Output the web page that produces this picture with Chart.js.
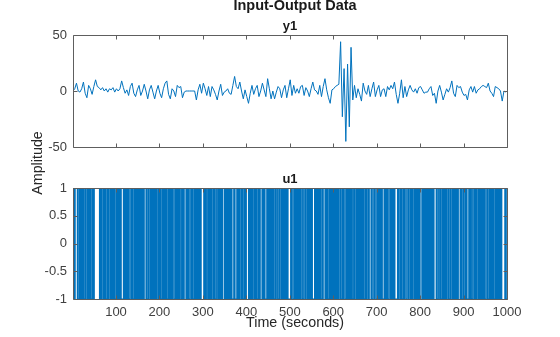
<!DOCTYPE html>
<html>
<head>
<meta charset="utf-8">
<title>Input-Output Data</title>
<script src="https://cdn.jsdelivr.net/npm/chart.js@4.4.1/dist/chart.umd.min.js"></script>
<style>
  html, body { margin: 0; padding: 0; background: #fff; }
  #wrap { position: relative; width: 560px; height: 337px; }
  #wrap canvas { position: absolute; left: 0; top: 0; }
</style>
</head>
<body>
<div id="wrap">
  <canvas id="outputChart" width="560" height="337"></canvas>
  <canvas id="inputChart" width="560" height="337"></canvas>
</div>
<script>
/* ------------------- DATA ------------------- */
// Output y1, one value every 4 samples starting at t = 1
const y1Start = 1;
const y1Step = 4;
const y1Values = [
  0, 2, 7, 0, -1, 2, 8, -2, -6, 5,
  2, -3, 4, 10, 4, 3, 1, 3, 0, 2,
  -1, 2, 1, 3, -1, 2, 0, 2, 9, 3,
  -2, 1, -4, 4, 7, -2, -5, 1, 5, -4,
  0, 6, 0, -7, 1, 5, -1, -7, 0, 5,
  -2, -6, 2, 7, 9, -3, -7, 2, 0, -5,
  5, 3, 4, -6, -1, 0, 0, 0, 0, 0,
  0, -8, 1, 6, -2, 7, 2, -4, 4, -5,
  4, 1, -3, -8, 0, 6, -4, -1, 0, 2,
  -2, -3, 5, 13, 4, 2, 8, 0, -7, 1,
  -5, -11, -2, 5, -3, 2, 5, -5, 0, 7,
  1, -5, 11, 2, -7, 0, -7, -1, 4, 2,
  -6, 1, 5, -6, 2, 10, -4, 5, -2, 2,
  -2, 4, 5, -4, 3, 0, -5, 2, 8, 1,
  0, -3, 5, -5, 4, 11, 1, -6, -11, 1,
  2, 4, 5, 6, 44, -23, 20, -45, 24, -32,
  39, -8, 5, -6, 2, -3, -9, 7, 0, -3,
  5, -5, 2, 8, -5, 1, 5, -5, 1, 2,
  -5, 4, 1, 5, 2, 8, -3, -11, -2, 10,
  -6, 4, -5, 1, 5, 1, -1, 2, -2, 3,
  4, 1, -2, -1, -1, 2, 4, -4, -2, -11,
  0, 5, -1, -8, -3, 2, -1, 3, 9, -2,
  -5, 5, 3, 4, -1, -4, -3, -8, 1, 4,
  -1, 4, -2, 1, 2, 4, 5, 4, 3, 7,
  0, -2, -5, 4, 3, 2, 0, -9, 0, -1
];

// Input u1, binary signal: '1' -> +1, '0' -> -1
// one row per 100 samples (t = 1..1000), grouped by 10 for reading
const u1Bits = [
  "0101011111 0100010110 1001010001 1101001011 0100010101 1111111111 1010010111 0110100010 1101110010 1001011000",
  "1010010110 1000001011 0100101100 0111010100 0101101001 0110100101 1010111101 0001011101 0010110100 1011101001",
  "0100010110 1001011000 1010100110 1110001010 0110100111 0101101111 0100101000 1110100010 1101001011 0101011111",
  "1010010111 0100101101 1101001000 1110101101 0010111101 1010010110 1010110000 1010000101 1010011101 0001010101",
  "1111010010 1010011101 0101000101 0111101001 0100001010 0110100101 1010001011 1000101110 1001011010 1010100000",
  "0101110001 0110100101 0101011100 0111011101 0010110100 1000001011 0100101101 1000101111 0100101000 1101001011",
  "0100101101 0111010001 0101110001 0110100101 1010001011 1010010110 1001011010 0010101110 1011110100 0111011100",
  "0101101001 0100001011 0100100011 1010010110 1000000101 0111010001 0101110001 1101110100 1011101001 0110100101",
  "1110101010 1010110101 0101010101 0111110100 0111010001 1010010110 1110100010 1110100101 1010010111 1010100010",
  "1110101000 0101101000 1110100101 1101001011 0100101100 0111000101 1010010110 0010110100 1010110111 1111010001"
];

const xTickValues = [100, 200, 300, 400, 500, 600, 700, 800, 900, 1000];
const y1TickValues = [-50, 0, 50];
const u1TickValues = [-1, -0.5, 0, 0.5, 1];

/* ------------------- STYLE ------------------- */
const LINE_COLOR = '#0072BD';
const AXIS_COLOR = '#5e5e5e';
const TEXT_COLOR = '#404040';
const FONT_FAMILY = "'Liberation Sans', Arial, Helvetica, sans-serif";
const TICK_LEN = 4;

/* ------------------- HELPERS ------------------- */
function y1Points() {
  return y1Values.map((v, i) => ({ x: y1Start + i * y1Step, y: v }));
}

function u1Points() {
  const bits = u1Bits.join('').replace(/\s+/g, '');
  return bits.split('').map((c, i) => ({ x: i + 1, y: c === '1' ? 1 : -1 }));
}

function fixedTicks(values) {
  return scale => { scale.ticks = values.map(v => ({ value: v })); };
}

// plain number labels: 1000 not 1,000 and 1 not 1.0
const plainLabel = value => String(value);

// Axes box with inward tick marks on all four sides
const boxTicks = {
  id: 'boxTicks',
  afterDatasetsDraw(chart) {
    const { ctx, chartArea: a, scales } = chart;
    const left = Math.round(a.left) + 0.5;
    const right = Math.round(a.right) + 0.5;
    const top = Math.round(a.top) + 0.5;
    const bottom = Math.round(a.bottom) + 0.5;
    ctx.save();
    ctx.strokeStyle = AXIS_COLOR;
    ctx.lineWidth = 1;
    ctx.beginPath();
    ctx.rect(left, top, right - left, bottom - top);
    scales.x.ticks.forEach(t => {
      const px = Math.round(scales.x.getPixelForValue(t.value)) + 0.5;
      ctx.moveTo(px, top); ctx.lineTo(px, top + TICK_LEN);
      ctx.moveTo(px, bottom); ctx.lineTo(px, bottom - TICK_LEN);
    });
    scales.y.ticks.forEach(t => {
      const py = Math.round(scales.y.getPixelForValue(t.value)) + 0.5;
      ctx.moveTo(left, py); ctx.lineTo(left + TICK_LEN, py);
      ctx.moveTo(right, py); ctx.lineTo(right - TICK_LEN, py);
    });
    ctx.stroke();
    ctx.restore();
  }
};

// Figure titles and axis labels
const figureText = {
  id: 'figureText',
  afterDraw(chart) {
    const ctx = chart.ctx;
    ctx.save();
    ctx.textAlign = 'center';
    ctx.textBaseline = 'alphabetic';

    ctx.fillStyle = '#1a1a1a';
    ctx.font = `bold 14.5px ${FONT_FAMILY}`;
    ctx.fillText('Input-Output Data', 295, 10);

    ctx.font = `bold 13px ${FONT_FAMILY}`;
    ctx.fillText('y1', 290, 29.5);
    ctx.fillText('u1', 290, 182.5);

    ctx.fillStyle = '#262626';
    ctx.font = `14.3px ${FONT_FAMILY}`;
    ctx.fillText('Time (seconds)', 295, 327);

    ctx.translate(42, 163);
    ctx.rotate(-Math.PI / 2);
    ctx.fillText('Amplitude', 0, 0);
    ctx.restore();
  }
};

function baseOptions(padding) {
  return {
    responsive: false,
    animation: false,
    events: [],
    layout: { padding: padding },
    plugins: { legend: { display: false }, tooltip: { enabled: false }, title: { display: false } }
  };
}

function tickFont() {
  return { family: FONT_FAMILY, size: 13 };
}

/* ------------------- RENDER CHARTS ------------------- */
function renderOutputChart() {
  const options = baseOptions({ left: 0, right: 53, top: 35, bottom: 190 });
  options.scales = {
    x: {
      type: 'linear', min: 1, max: 1000,
      grid: { display: false, drawTicks: false },
      border: { display: false },
      ticks: { display: false },
      afterBuildTicks: fixedTicks(xTickValues),
      afterFit: s => { s.height = 0; }
    },
    y: {
      type: 'linear', min: -50, max: 50,
      grid: { display: false, drawTicks: false },
      border: { display: false },
      ticks: { color: TEXT_COLOR, font: tickFont(), padding: 6, callback: plainLabel },
      afterBuildTicks: fixedTicks(y1TickValues),
      afterFit: s => { s.width = 73; }
    }
  };

  return new Chart(document.getElementById('outputChart'), {
    type: 'line',
    data: {
      datasets: [{
        data: y1Points(),
        borderColor: LINE_COLOR,
        borderWidth: 1,
        pointRadius: 0,
        tension: 0,
        fill: false
      }]
    },
    options: options,
    plugins: [boxTicks, figureText]
  });
}

function renderInputChart() {
  const options = baseOptions({ left: 0, right: 53, top: 188, bottom: 12 });
  options.scales = {
    x: {
      type: 'linear', min: 1, max: 1000,
      grid: { display: false, drawTicks: false },
      border: { display: false },
      ticks: {
        color: TEXT_COLOR, font: tickFont(), callback: plainLabel,
        padding: 6, maxRotation: 0, autoSkip: false
      },
      afterBuildTicks: fixedTicks(xTickValues),
      afterFit: s => { s.height = 26; }
    },
    y: {
      type: 'linear', min: -1, max: 1,
      grid: { display: false, drawTicks: false },
      border: { display: false },
      ticks: { color: TEXT_COLOR, font: tickFont(), padding: 6, callback: plainLabel },
      afterBuildTicks: fixedTicks(u1TickValues),
      afterFit: s => { s.width = 73; }
    }
  };

  return new Chart(document.getElementById('inputChart'), {
    type: 'line',
    data: {
      datasets: [{
        data: u1Points(),
        borderColor: LINE_COLOR,
        borderWidth: 1.15,
        pointRadius: 0,
        stepped: true,
        fill: false
      }]
    },
    options: options,
    plugins: [boxTicks]
  });
}

renderOutputChart();
renderInputChart();
</script>
</body>
</html>
